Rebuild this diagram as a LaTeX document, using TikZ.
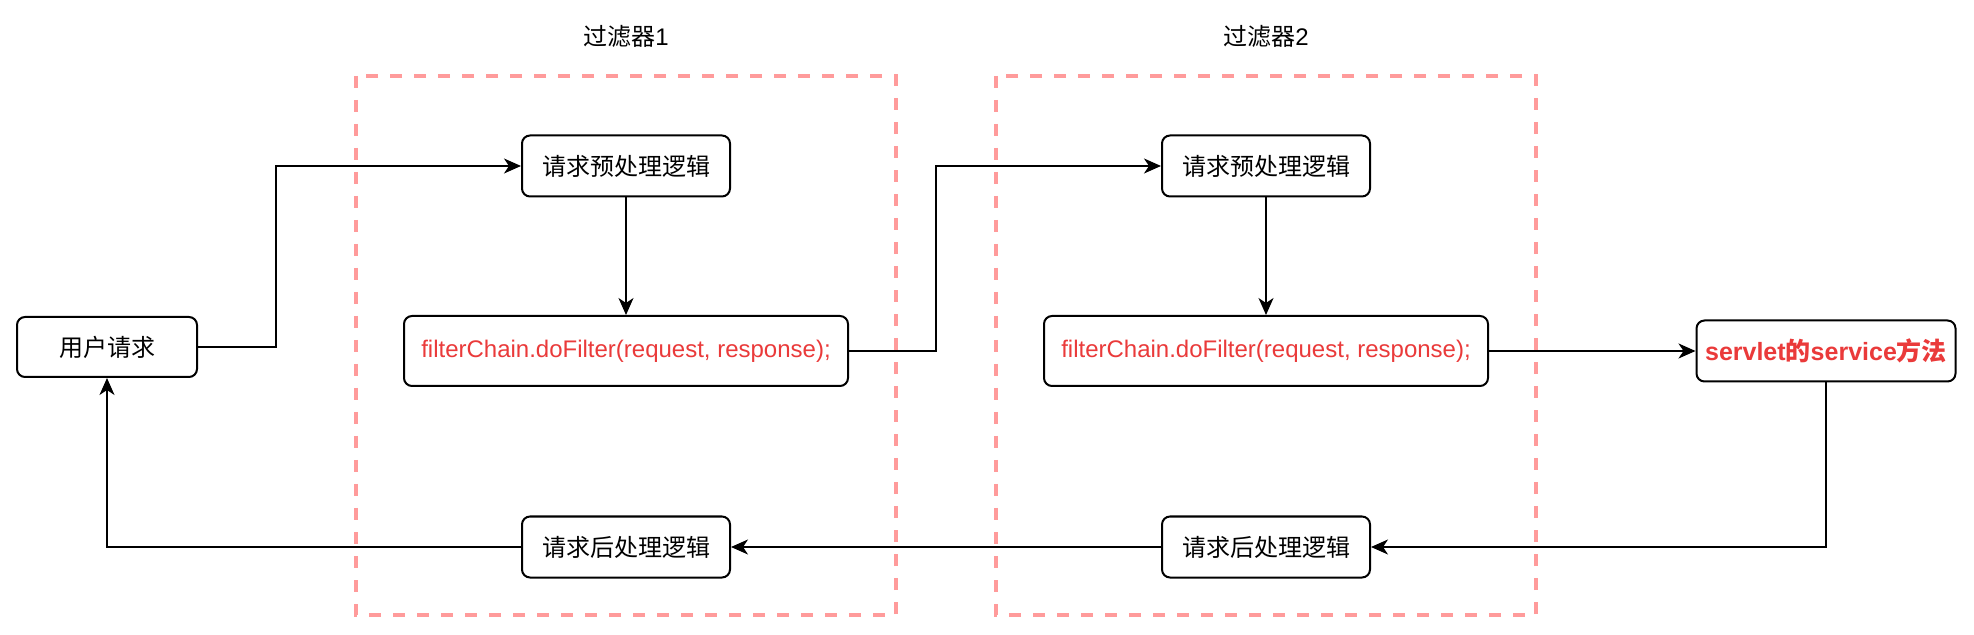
\documentclass[tikz,border=0pt]{standalone}
\usepackage{fontspec}
\setmainfont{Liberation Sans}
\newfontfamily\cjk{Noto Sans CJK SC}
\usetikzlibrary{arrows.meta}
\definecolor{myred}{RGB}{234,58,58}
\definecolor{mypink}{RGB}{255,155,155}
\definecolor{mydark}{RGB}{0,0,0}
\tikzset{
  block/.style={rectangle, draw=mydark, fill=white,
    minimum width=104pt, minimum height=30.5pt, inner sep=0pt,
    font=\fontsize{12}{14}\selectfont, rounded corners=4pt, line width=1pt},
  codeblock/.style={block, minimum width=222pt, minimum height=35pt,
    text=myred},
  userblock/.style={block, minimum width=90pt, minimum height=30pt},
  endblock/.style={block, minimum width=129.5pt, minimum height=30.5pt,
    text=myred, font=\fontsize{12.5}{14}\selectfont\bfseries},
  frame/.style={draw=mypink, line width=1.8pt, dash pattern=on 6pt off 6pt},
  title/.style={font=\fontsize{12}{14}\selectfont},
  arrow/.style={-{Stealth[length=8.5pt, width=7.5pt, inset=2.5pt]}, line width=0.8pt, color=mydark}
}
\begin{document}
\begin{tikzpicture}[x=0.5pt, y=-0.5pt]
  \useasboundingbox (0,0) rectangle (1974,635);
  % filter frames
  \draw[frame] (356,76) rectangle (896,615);
  \draw[frame] (996,76) rectangle (1536,615);
  \node[title] (t1) at (626,36) {{\cjk 过滤器}1};
  \node[title] (t2) at (1266,36) {{\cjk 过滤器}2};
  % nodes
  \node[userblock] (user) at (107,347) {\cjk 用户请求};
  \node[block] (pre1) at (626,166) {\cjk 请求预处理逻辑};
  \node[codeblock] (fc1) at (626,351) {filterChain.doFilter(request, response);};
  \node[block] (post1) at (626,547) {\cjk 请求后处理逻辑};
  \node[block] (pre2) at (1266,166) {\cjk 请求预处理逻辑};
  \node[codeblock] (fc2) at (1266,351) {filterChain.doFilter(request, response);};
  \node[block] (post2) at (1266,547) {\cjk 请求后处理逻辑};
  \node[endblock] (svc) at (1826,351) {servlet{\cjk 的}service{\cjk 方法}};
  % bend points
  \coordinate (bend1) at (276,166);
  \coordinate (bend2) at (936,166);
  % forward path
  \draw[arrow] (user.east) -| (bend1) -- (pre1.west);
  \draw[arrow] (pre1) -- (fc1);
  \draw[arrow] (fc1.east) -| (bend2) -- (pre2.west);
  \draw[arrow] (pre2) -- (fc2);
  \draw[arrow] (fc2) -- (svc);
  % return path
  \draw[arrow] (svc.south) |- (post2.east);
  \draw[arrow] (post2) -- (post1);
  \draw[arrow] (post1.west) -| (user.south);
\end{tikzpicture}
\end{document}
